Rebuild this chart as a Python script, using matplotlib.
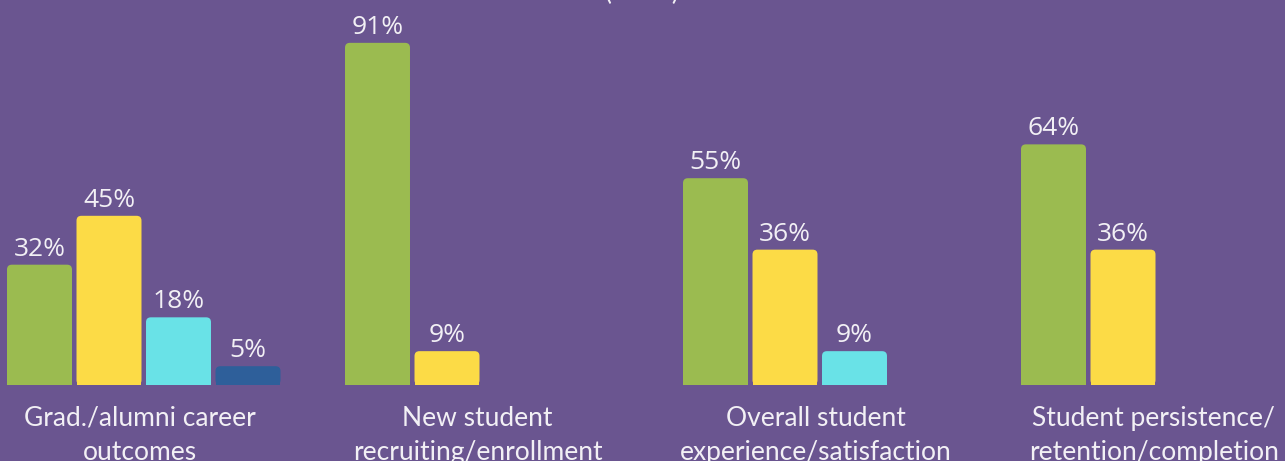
import matplotlib
matplotlib.use("Agg")
import matplotlib.pyplot as plt
from matplotlib.patches import FancyBboxPatch, Rectangle
import numpy as np

# Data
categories = ["Grad./alumni career\noutcomes",
              "New student\nrecruiting/enrollment",
              "Overall student\nexperience/satisfaction",
              "Student persistence/\nretention/completion"]
series_colors = ["#9bbb50", "#fcdb46", "#69e2e7", "#2e5f9a"]
values = [
    [32, 45, 18, 5],
    [91, 9],
    [55, 36, 9],
    [64, 36],
]

bg = "#6a5590"
txt = "#f2f0f5"

fig = plt.figure(figsize=(12.85, 4.61), dpi=100, facecolor=bg)
ax = fig.add_axes([0, 0, 1, 1])
ax.set_facecolor(bg)

slot = 69.5          # pixel width of one bar slot
stride = 338 / slot  # group stride in slots
ax.set_xlim(0, 1285 / slot)
ax.set_ylim(-76 / 3.76, 385 / 3.76)
ax.axis("off")

bar_w = 0.935
first = 39.5 / slot
for i, vals in enumerate(values):
    xs = first + i * stride + np.arange(len(vals))
    bars = ax.bar(xs, vals, width=bar_w, color=series_colors[:len(vals)])
    for b, v in zip(bars, vals):
        x0, w, h = b.get_x(), b.get_width(), b.get_height()
        c = b.get_facecolor()
        b.set_visible(False)
        # rounded top, square bottom
        ax.add_patch(FancyBboxPatch((x0, 0), w, h,
                                    boxstyle="round,pad=0,rounding_size=0.07",
                                    mutation_aspect=slot / 3.76,
                                    facecolor=c, edgecolor="none"))
        ax.add_patch(Rectangle((x0, 0), w, h / 2, facecolor=c, edgecolor="none"))
        ax.text(x0 + w / 2, v + 2.4, f"{v}%", ha="center", va="baseline",
                color=txt, fontsize=19, family="Open Sans")
    gc = first + i * stride + 1.5 - 0.06
    ax.text(gc, -5.5, categories[i], ha="center", va="top", color=txt,
            fontsize=19, family="Lato", linespacing=1.45)

# title cut off by the top edge
fig.text(0.5, 1.0, "(n=22)", ha="center", va="baseline", color=txt,
         fontsize=19, family="Lato")

fig.savefig("out.png", dpi=100, facecolor=bg)
